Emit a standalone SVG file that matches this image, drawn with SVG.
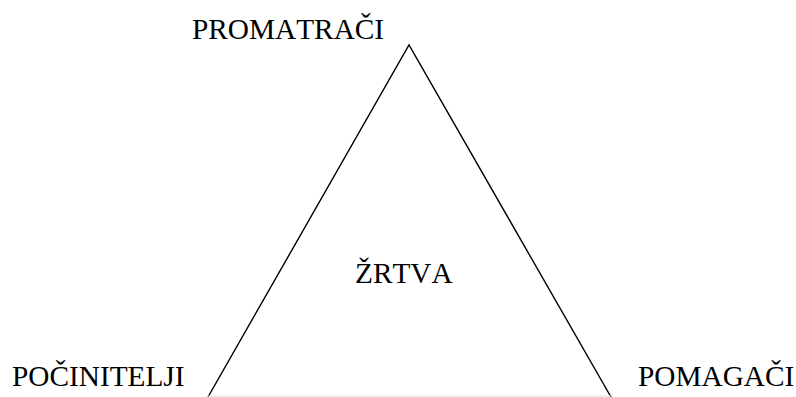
<svg xmlns="http://www.w3.org/2000/svg" width="796" height="397" viewBox="0 0 796 397">
<style>
.lbl{font-family:"Liberation Serif","Times New Roman",serif;font-size:29.3px;fill:#000;font-kerning:none}
.edge{fill:none;stroke:#000;stroke-width:1.4}
</style>
<rect width="796" height="397" fill="#fff"/>
<g id="connectors">
<path class="edge" d="M208,397 L409,45 L611,397"/>
<line x1="208" y1="396" x2="611" y2="396" stroke="#e4e4e4" stroke-width="1"/>
</g>
<g id="promatraci"><text class="lbl" x="192" y="39">PROMATRAČI</text></g>
<g id="pocinitelji"><text class="lbl" x="12" y="386">POČINITELJI</text></g>
<g id="pomagaci"><text class="lbl" x="638" y="386">POMAGAČI</text></g>
<g id="zrtva"><text class="lbl" x="355" y="283">ŽRTVA</text></g>
</svg>
